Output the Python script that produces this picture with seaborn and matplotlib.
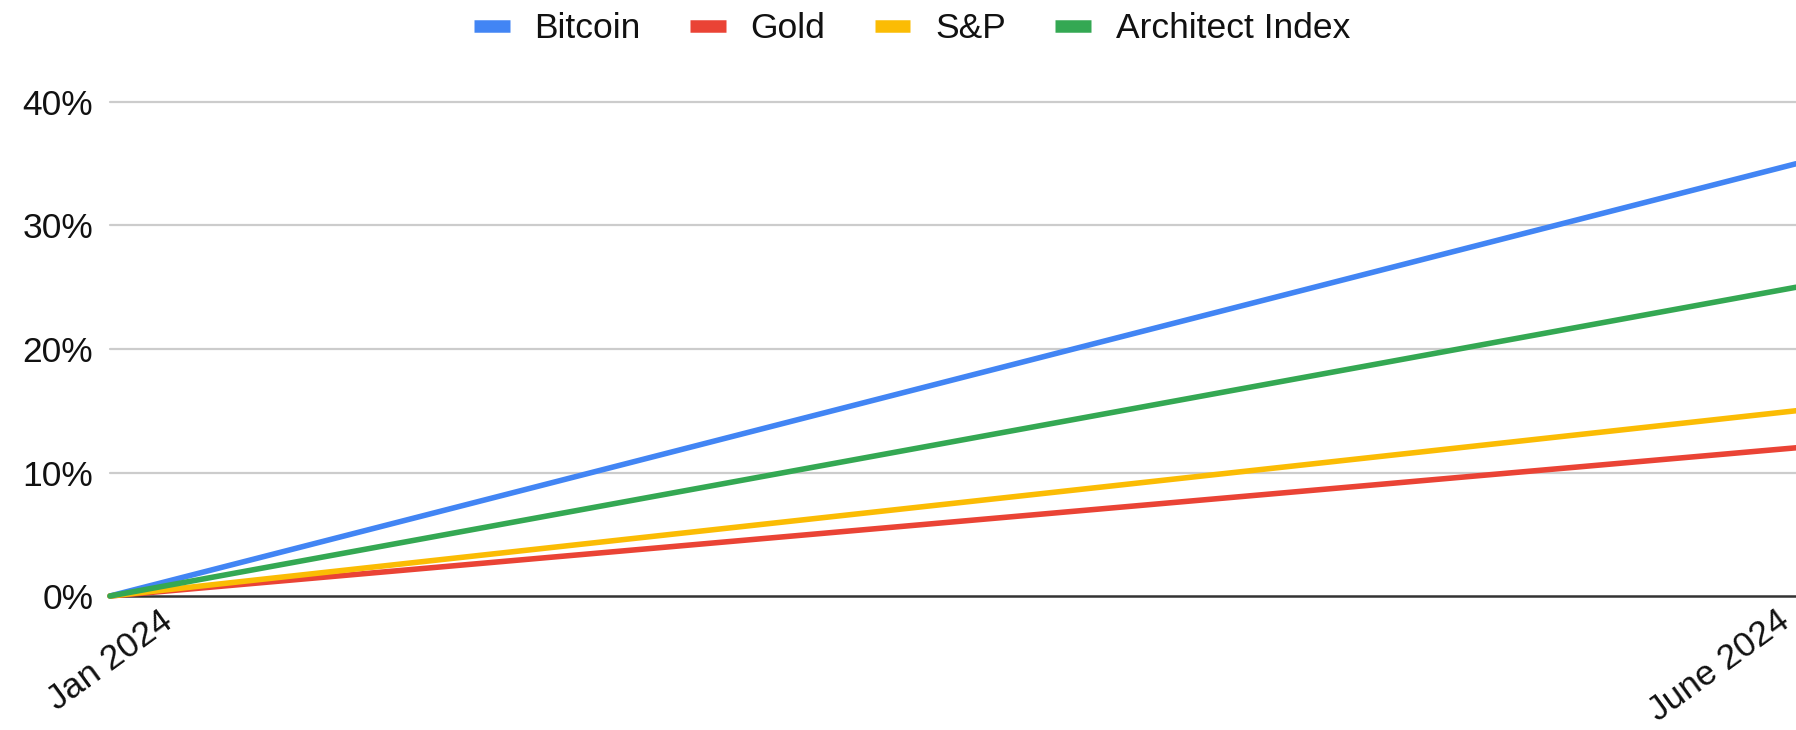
import matplotlib
matplotlib.use("Agg")
import matplotlib.pyplot as plt
from matplotlib.lines import Line2D
from matplotlib.ticker import FuncFormatter, FixedLocator
import seaborn as sns
import pandas as pd

months = ["Jan 2024", "June 2024"]
series_names = ["Bitcoin", "Gold", "S&P", "Architect Index"]
bitcoin = [0, 35]
gold = [0, 12]
snp = [0, 15]
architect = [0, 25]
colors = ["#4285F4", "#EA4335", "#FBBC04", "#34A853"]
yticks = [0, 10, 20, 30, 40]

rows = []
for name, vals in zip(series_names, [bitcoin, gold, snp, architect]):
    for i, (m, v) in enumerate(zip(months, vals)):
        rows.append({"pos": i, "month": m, "series": name, "value": v})
df = pd.DataFrame(rows)

sns.set_theme(style="white")
plt.rcParams['font.family'] = ['Liberation Sans', 'DejaVu Sans']

FS = 25.5
fig = plt.figure(figsize=(17.96, 7.30), dpi=100)
ax = fig.add_axes([110/1796, 134/730, 1 - 110/1796, (596-102)/730])

# gridlines
for t in yticks[1:]:
    ax.axhline(t, color="#cccccc", lw=1.6, zorder=0)

sns.lineplot(data=df, x="pos", y="value", hue="series", hue_order=series_names,
             palette=colors, linewidth=4.0, ax=ax, legend=False, zorder=3,
             solid_capstyle="round")
ax.axhline(0, color="#333333", lw=1.8, zorder=2)

ax.set_xlim(0, 1)
ax.set_ylim(0, 40)
for ln in ax.lines:
    ln.set_clip_on(False)

for s in ax.spines.values():
    s.set_visible(False)

ax.yaxis.set_major_locator(FixedLocator(yticks))
ax.yaxis.set_major_formatter(FuncFormatter(lambda v, p: f"{v:.0f}%"))
ax.tick_params(axis="y", labelsize=FS, length=0, pad=12, labelcolor="#111111")

ax.set_xticks([0, 1])
ax.set_xticklabels(months)
ax.tick_params(axis="x", labelsize=FS, length=0, pad=6, labelcolor="#111111")
labels = ax.get_xticklabels()
labels[0].set_rotation(36)
labels[0].set_ha("center")
labels[1].set_rotation(36)
labels[1].set_ha("right")
ax.set_xlabel("")
ax.set_ylabel("")

handles = [Line2D([0], [0], color=c, lw=9, solid_capstyle="butt") for c in colors]
fig.legend(handles, series_names, loc="center", bbox_to_anchor=(912/1796, 1 - 29/730),
           ncol=4, frameon=False, fontsize=FS, handlelength=1.0, handletextpad=0.7,
           columnspacing=1.4, labelcolor="#111111")

fig.savefig("out.png", dpi=100)
